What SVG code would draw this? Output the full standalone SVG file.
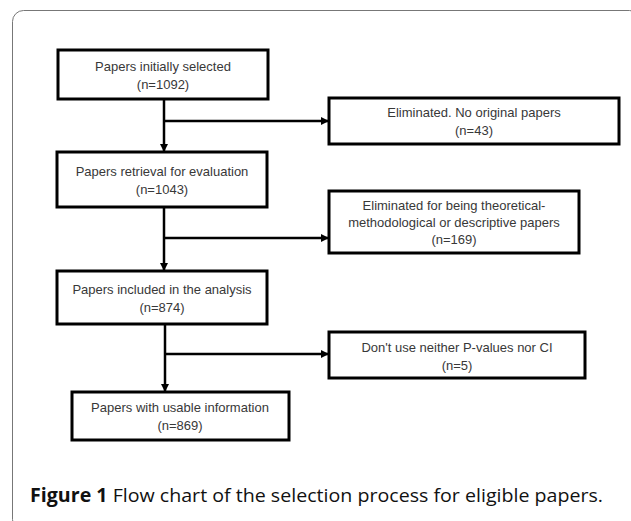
<svg xmlns="http://www.w3.org/2000/svg" width="631" height="521" viewBox="0 0 631 521">
<style>
.box{fill:#fff;stroke:#000;stroke-width:3}
.t{font-family:"Liberation Sans",Arial,sans-serif;font-size:13px;fill:#383838;text-anchor:middle}
.c{stroke:#000;stroke-width:2.5;fill:none}
.cap{font-family:"Open Sans","Liberation Sans",sans-serif;font-size:19px;fill:#111}
</style>
<defs>
<marker id="ah" markerWidth="8" markerHeight="8" refX="7" refY="4" orient="auto" markerUnits="userSpaceOnUse">
<path d="M0,0 L8,4 L0,8 Z" fill="#000"/>
</marker>
</defs>
<rect x="0" y="0" width="631" height="521" fill="#fff"/>
<rect x="12.5" y="10.5" width="628" height="520" rx="11" fill="none" stroke="#777" stroke-width="1"/>
<g id="connectors">
<line class="c" x1="164" y1="99" x2="164" y2="151" marker-end="url(#ah)"/>
<line class="c" x1="164" y1="121" x2="328" y2="121" marker-end="url(#ah)"/>
<line class="c" x1="164" y1="207" x2="164" y2="270" marker-end="url(#ah)"/>
<line class="c" x1="164" y1="238" x2="328" y2="238" marker-end="url(#ah)"/>
<line class="c" x1="165" y1="324" x2="165" y2="391" marker-end="url(#ah)"/>
<line class="c" x1="165" y1="354" x2="328" y2="354" marker-end="url(#ah)"/>
</g>
<g id="n1"><rect class="box" x="58" y="50" width="210" height="49"/>
<text class="t" x="163" y="71">Papers initially selected</text><text class="t" x="163" y="89">(n=1092)</text></g>
<g id="n2"><rect class="box" x="329" y="98" width="290" height="46"/>
<text class="t" x="474" y="117">Eliminated. No original papers</text><text class="t" x="474" y="135">(n=43)</text></g>
<g id="n3"><rect class="box" x="57" y="152" width="210" height="55"/>
<text class="t" x="162" y="176">Papers retrieval for evaluation</text><text class="t" x="162" y="194">(n=1043)</text></g>
<g id="n4"><rect class="box" x="329" y="191" width="250" height="62"/>
<text class="t" x="454" y="210">Eliminated for being theoretical-</text><text class="t" x="454" y="227">methodological or descriptive papers</text><text class="t" x="454" y="244">(n=169)</text></g>
<g id="n5"><rect class="box" x="57" y="271" width="210" height="53"/>
<text class="t" x="162" y="294">Papers included in the analysis</text><text class="t" x="162" y="312">(n=874)</text></g>
<g id="n6"><rect class="box" x="329" y="332" width="256" height="46"/>
<text class="t" x="457" y="352">Don't use neither P-values nor CI</text><text class="t" x="457" y="370">(n=5)</text></g>
<g id="n7"><rect class="box" x="72" y="392" width="217" height="48"/>
<text class="t" x="180" y="412">Papers with usable information</text><text class="t" x="180" y="430">(n=869)</text></g>
<text class="cap" x="30" y="502" textLength="573" lengthAdjust="spacingAndGlyphs"><tspan font-weight="bold">Figure 1</tspan> Flow chart of the selection process for eligible papers.</text>
</svg>
